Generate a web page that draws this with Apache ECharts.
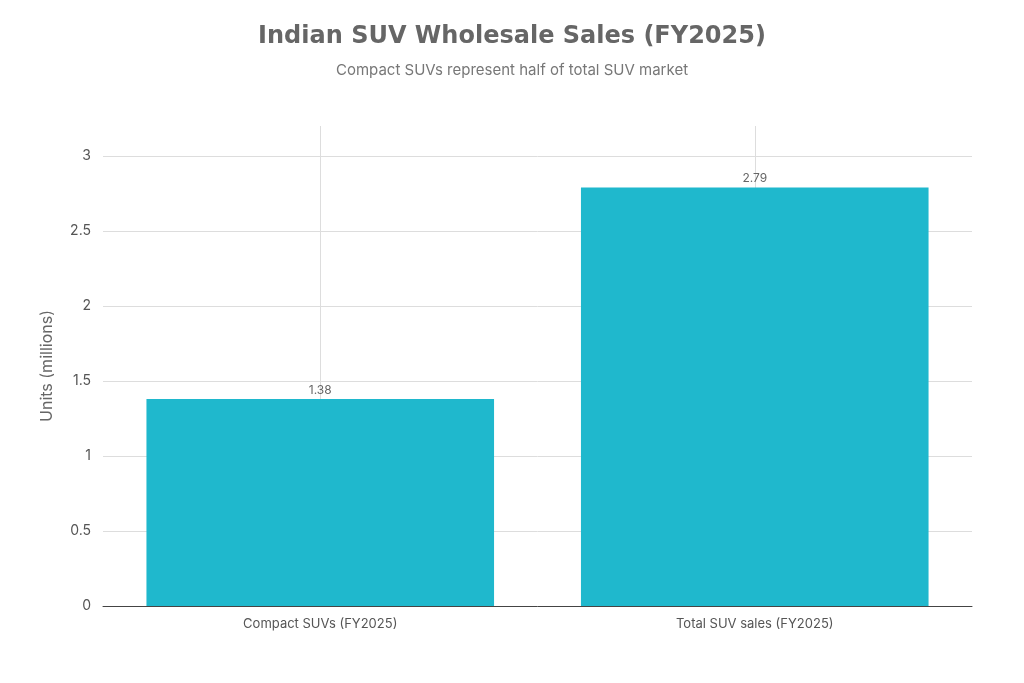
<!DOCTYPE html>
<html><head><meta charset="utf-8">
<script src="https://cdn.jsdelivr.net/npm/echarts@6/dist/echarts.min.js"></script>
<style>html,body{margin:0;padding:0;background:#fff}#c{width:1024px;height:683px}</style>
</head><body><div id="c"></div>
<script>
const categories = ['Compact SUVs (FY2025)', 'Total SUV sales (FY2025)'];
const values = [1.38, 2.79];
const chart = echarts.init(document.getElementById('c'));
chart.setOption({
  animation: false,
  title: {
    text: 'Indian SUV Wholesale Sales (FY2025)', left: 'center', top: 20,
    textStyle: {fontFamily: 'DejaVu Sans', fontWeight: 'bold', fontSize: 24, color: '#666'},
    subtext: 'Compact SUVs represent half of total SUV market', itemGap: 14,
    subtextStyle: {fontFamily: 'Inter', fontSize: 15, color: '#777'}
  },
  grid: {left: 103, right: 52, top: 126, bottom: 77},
  xAxis: {
    type: 'category', data: categories,
    axisLine: {lineStyle: {color: '#444'}}, axisTick: {show: false},
    axisLabel: {fontFamily: 'Inter', fontSize: 13, color: '#555', margin: 12}
  },
  yAxis: {
    type: 'value', min: 0, max: 3.2, interval: 0.5,
    name: 'Units (millions)', nameLocation: 'middle', nameGap: 48,
    nameTextStyle: {fontFamily: 'Inter', fontSize: 16, color: '#666'},
    axisLabel: {fontFamily: 'Inter', fontSize: 14, color: '#555', margin: 12, showMaxLabel: false},
    splitLine: {showMaxLine: false, lineStyle: {color: '#ddd'}}
  },
  series: [{
    type: 'bar', data: [], z: 1,
    markLine: {
      silent: true, symbol: 'none', label: {show: false},
      lineStyle: {color: '#ddd', type: 'solid', width: 1},
      data: categories.map(c => ({xAxis: c}))
    }
  }, {
    type: 'bar', data: values, barCategoryGap: '20%', barGap: '-100%',
    itemStyle: {color: '#1fb8cd'},
    label: {show: true, position: 'top', fontFamily: 'Inter', fontSize: 12, color: '#666', distance: 3},
    z: 5
  }]
});
</script></body></html>
